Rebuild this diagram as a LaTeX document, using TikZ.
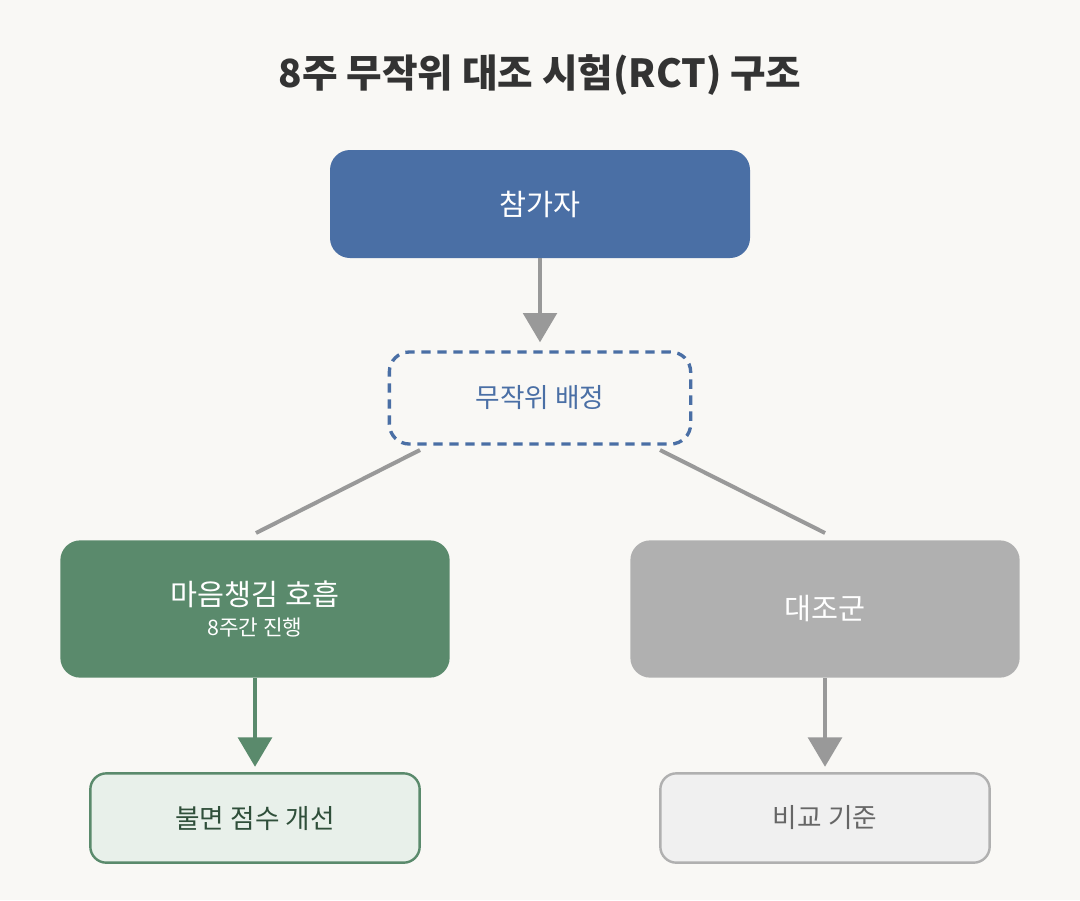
\documentclass[tikz,border=0pt]{standalone}
\usepackage{fontspec}
\setmainfont{Noto Sans CJK KR}
\usetikzlibrary{arrows.meta}
\definecolor{bg}{HTML}{F9F8F5}
\definecolor{blu}{HTML}{4A6FA5}
\definecolor{grn}{HTML}{5A8A6C}
\definecolor{gry}{HTML}{B0B0B0}
\definecolor{ln}{HTML}{999999}
\definecolor{lg}{HTML}{E8F0EA}
\definecolor{lgy}{HTML}{F0F0F0}
\definecolor{dg}{HTML}{2F4F3A}
\definecolor{tt}{HTML}{333333}
\begin{document}
\begin{tikzpicture}[x=0.75pt,y=-0.75pt,
 box/.style={rounded corners=15pt,inner sep=0pt,align=center},
 arr/.style={line width=3.5pt,-{Triangle[width=25pt,length=22pt]}},
 fs/.style={font=\fontsize{22}{26}\selectfont}]
\fill[bg] (0,0) rectangle (1080,900);
\useasboundingbox (0,0) rectangle (1080,900);
\node[font=\fontsize{29}{34}\selectfont\bfseries,text=tt] (title) at (540,75) {8주 무작위 대조 시험(RCT) 구조};
\node[box,fill=blu,minimum width=315pt,minimum height=81pt,text=white,fs] (p) at (540,204) {참가자};
\node[box,draw=blu,line width=2.5pt,dash pattern=on 7pt off 5pt,minimum width=226pt,minimum height=69pt,text=blu,font=\fontsize{20}{24}\selectfont] (r) at (540,398) {무작위 배정};
\node[box,fill=grn,minimum width=292pt,minimum height=103pt,text=white] (g) at (255,609) {{\fontsize{22}{26}\selectfont 마음챙김 호흡}\\[6pt]{\fontsize{16}{20}\selectfont 8주간 진행}};
\node[box,fill=gry,minimum width=292pt,minimum height=103pt,text=white,fs] (c) at (825,609) {대조군};
\node[box,rounded corners=12pt,fill=lg,draw=grn,line width=1.8pt,minimum width=247pt,minimum height=67pt,text=dg,font=\fontsize{20}{24}\selectfont] (gb) at (255,818) {불면 점수 개선};
\node[box,rounded corners=12pt,fill=lgy,draw=gry,line width=1.8pt,minimum width=247pt,minimum height=67pt,text=black!60,font=\fontsize{20}{24}\selectfont] (cb) at (825,818) {비교 기준};
\draw[arr,ln] (p.south) -- ([yshift=6pt]r.north);
\coordinate (l1) at (420,450); \coordinate (l2) at (256,533);
\coordinate (r1) at (660,450); \coordinate (r2) at (825,533);
\draw[ln,line width=3pt] (l1) -- (l2);
\draw[ln,line width=3pt] (r1) -- (r2);
\draw[arr,grn] (g.south) -- ([yshift=4pt]gb.north);
\draw[arr,ln] (c.south) -- ([yshift=4pt]cb.north);
\end{tikzpicture}
\end{document}
